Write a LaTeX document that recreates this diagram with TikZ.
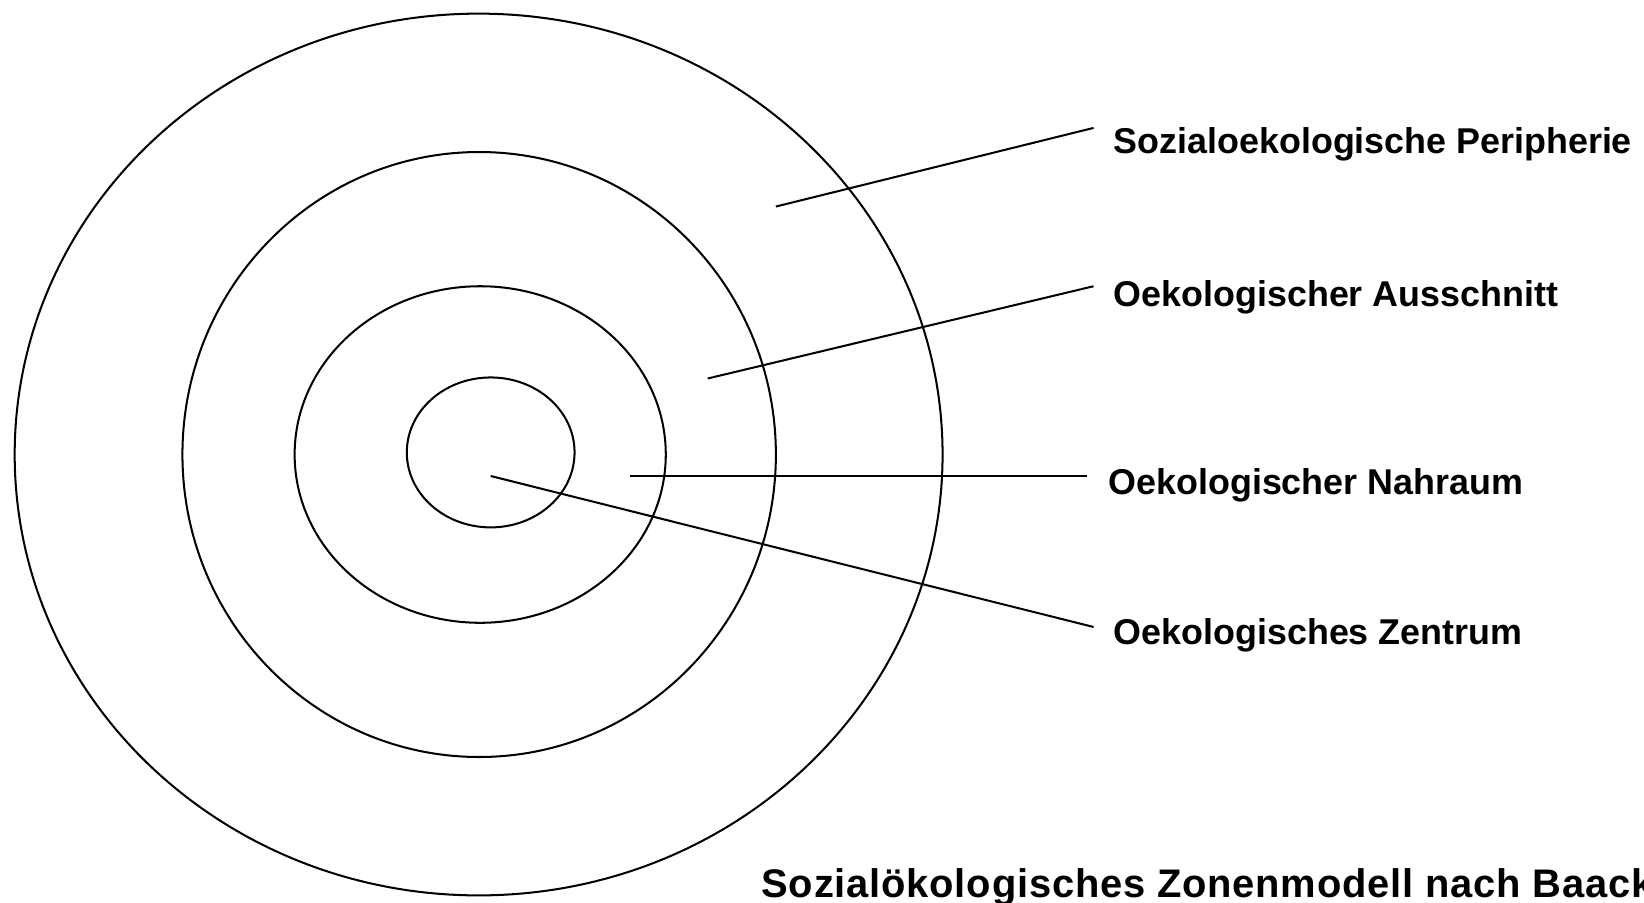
\documentclass[tikz,border=0pt]{standalone}
\usepackage{fontspec}
\setmainfont{Liberation Sans}
\newfontfamily\titlefont[LetterSpace=2]{Liberation Sans}
\begin{document}
\begin{tikzpicture}[x=0.02097cm,y=-0.02097cm,
  ring/.style={draw=black,line width=1.15pt},
  leader/.style={draw=black,line width=1.15pt},
  lbl/.style={anchor=base west,inner sep=0pt,font=\fontsize{20.4}{24}\selectfont\bfseries},
  ttl/.style={anchor=base west,inner sep=0pt,font=\titlefont\fontsize{22.7}{26}\selectfont\bfseries}]
\useasboundingbox[fill=white] (0,0) rectangle (1568,861);
% rings
\draw[ring] (456.5,433.5) ellipse [x radius=442.5,y radius=420.5];
\draw[ring] (457,433.5) ellipse [x radius=283,y radius=288.5];
\draw[ring] (458,433.5) ellipse [x radius=177,y radius=160.5];
\draw[ring] (468,431.5) ellipse [x radius=80,y radius=71.5];
% labels
\node[lbl] (peri) at (1062,146) {Sozialoekologische Peripherie};
\node[lbl] (aus)  at (1062,292) {Oekologischer Ausschnitt};
\node[lbl] (nah)  at (1057,472) {Oekologischer Nahraum};
\node[lbl] (zen)  at (1062,615) {Oekologisches Zentrum};
\node[ttl] (title) at (726,856) {Sozialökologisches Zonenmodell nach Baack};
% leader ends
\coordinate (p1) at (740,197);  \coordinate (p2) at (1043,122);
\coordinate (a1) at (675,361);  \coordinate (a2) at (1043,273);
\coordinate (n1) at (601,454);  \coordinate (n2) at (1037,454);
\coordinate (z1) at (468,454);  \coordinate (z2) at (1043,598);
\draw[leader] (p1) -- (p2);
\draw[leader] (a1) -- (a2);
\draw[leader] (n1) -- (n2);
\draw[leader] (z1) -- (z2);
\end{tikzpicture}
\end{document}
